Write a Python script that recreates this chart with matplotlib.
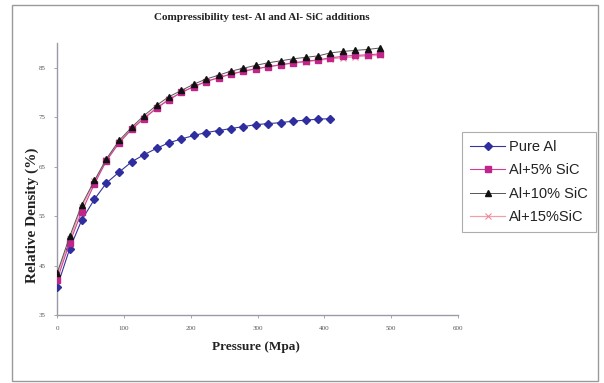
import matplotlib
matplotlib.use("Agg")
import matplotlib.pyplot as plt
from matplotlib.patches import Rectangle

pressure_al = [0, 19, 37, 56, 74, 93, 112, 130, 149, 167, 186, 205, 223,
               242, 260, 279, 298, 316, 335, 353, 372, 391, 409]
pressure_comp = [0, 19, 37, 56, 74, 93, 112, 130, 149, 167, 186, 205, 223,
                 242, 260, 279, 298, 316, 335, 353, 372, 391, 409, 428, 446, 465, 484]

pure_al = [40.6, 48.4, 54.2, 58.4, 61.7, 63.9, 66.0, 67.4, 68.7, 69.8, 70.6, 71.3,
           71.9, 72.3, 72.7, 73.1, 73.5, 73.7, 73.9, 74.2, 74.4, 74.6, 74.7]
al_5 = [42.1, 49.6, 55.9, 61.5, 66.2, 69.8, 72.6, 74.7, 76.8, 78.5, 80.0, 81.2,
        82.2, 83.0, 83.7, 84.3, 84.8, 85.2, 85.6, 86.0, 86.3, 86.6, 87.0, 87.3,
        87.5, 87.6, 87.8]
al_10 = [43.4, 50.9, 57.3, 62.2, 66.6, 70.3, 73.0, 75.3, 77.4, 79.1, 80.4, 81.7,
         82.7, 83.5, 84.3, 84.9, 85.5, 86.0, 86.4, 86.8, 87.1, 87.4, 88.0, 88.3,
         88.5, 88.7, 89.0]
al_15 = [43.0, 50.3, 56.8, 62.0, 66.4, 70.0, 72.7, 74.9, 76.9, 78.6, 80.0, 81.2,
         82.2, 83.0, 83.7, 84.3, 84.8, 85.2, 85.6, 85.9, 86.2, 86.5, 86.8, 87.0,
         87.2, 87.4, 87.5]

labels = ["Pure Al", "Al+5% SiC", "Al+10% SiC", "Al+15%SiC"]
x_ticks = [0, 100, 200, 300, 400, 500, 600]
y_ticks = [35, 45, 55, 65, 75, 85]

serif = ["Liberation Serif", "DejaVu Serif"]
sans = ["Liberation Sans", "DejaVu Sans"]

fig = plt.figure(figsize=(6.04, 3.83), dpi=100)
fig.patch.set_facecolor("white")
fig.add_artist(Rectangle((12 / 604, 1 - 381 / 383), (598 - 12) / 604, (381 - 5) / 383,
                         transform=fig.transFigure, fill=False, edgecolor="#9a9a9a",
                         linewidth=1.0))

ax = fig.add_axes([57 / 604, 1 - 315 / 383, (458 - 57) / 604, (315 - 43) / 383])

ax.plot(pressure_al, pure_al, color="#34349a", linewidth=0.8, marker="D",
        markersize=3.8, markerfacecolor="#2e2e9e", markeredgecolor="#2e2e9e",
        label=labels[0], zorder=3)
ax.plot(pressure_comp, al_5, color="#d0409a", linewidth=0.8, marker="s",
        markersize=4, markerfacecolor="#c2258a", markeredgecolor="#c2258a",
        label=labels[1], zorder=4)
ax.plot(pressure_comp, al_10, color="#555555", linewidth=0.7, marker="^",
        markersize=4.8, markerfacecolor="#111111", markeredgecolor="#111111",
        label=labels[2], zorder=5)
ax.plot(pressure_comp, al_15, color="#f0a0a8", linewidth=0.9, marker="x",
        markersize=4, markeredgecolor="#f08a98", markeredgewidth=0.8,
        label=labels[3], zorder=2)

ax.set_xlim(0, 600)
ax.set_ylim(35, 90)
ax.set_xticks(x_ticks)
ax.set_yticks(y_ticks)
ax.set_xticklabels([str(v) for v in x_ticks], fontfamily=serif, fontsize=5, color="#555555")
ax.set_yticklabels([str(v) for v in y_ticks], fontfamily=serif, fontsize=5, color="#555555")
ax.tick_params(axis="both", length=2, width=0.6, color="#999999", pad=6)
for s in ["top", "right"]:
    ax.spines[s].set_visible(False)
for s in ["left", "bottom"]:
    ax.spines[s].set_color("#9a9aa8")
    ax.spines[s].set_linewidth(1.0)

fig.text(262 / 604, 1 - 18 / 383, "Compressibility test- Al and Al- SiC additions",
         ha="center", va="center", fontfamily=serif, fontweight="bold", fontsize=8,
         color="#222222")
fig.text(256 / 604, 1 - 347 / 383, "Pressure (Mpa)", ha="center", va="center",
         fontfamily=serif, fontweight="bold", fontsize=9.5, color="#222222")
fig.text(32 / 604, 1 - 215 / 383, "Relative Density (%)", ha="center", va="center",
         rotation=90, fontfamily=serif, fontweight="bold", fontsize=11, color="#222222")

leg = ax.legend(loc="upper left", bbox_to_anchor=(462 / 604, 1 - 132 / 383),
                bbox_transform=fig.transFigure, prop={"family": sans, "size": 10.5},
                frameon=True, fancybox=False, edgecolor="#999999", handlelength=2.4,
                handletextpad=0.3, borderpad=0.55, labelspacing=0.64, borderaxespad=0)
leg.get_frame().set_linewidth(0.8)
for t in leg.get_texts():
    t.set_color("#222222")

fig.savefig("out.png", dpi=100)
